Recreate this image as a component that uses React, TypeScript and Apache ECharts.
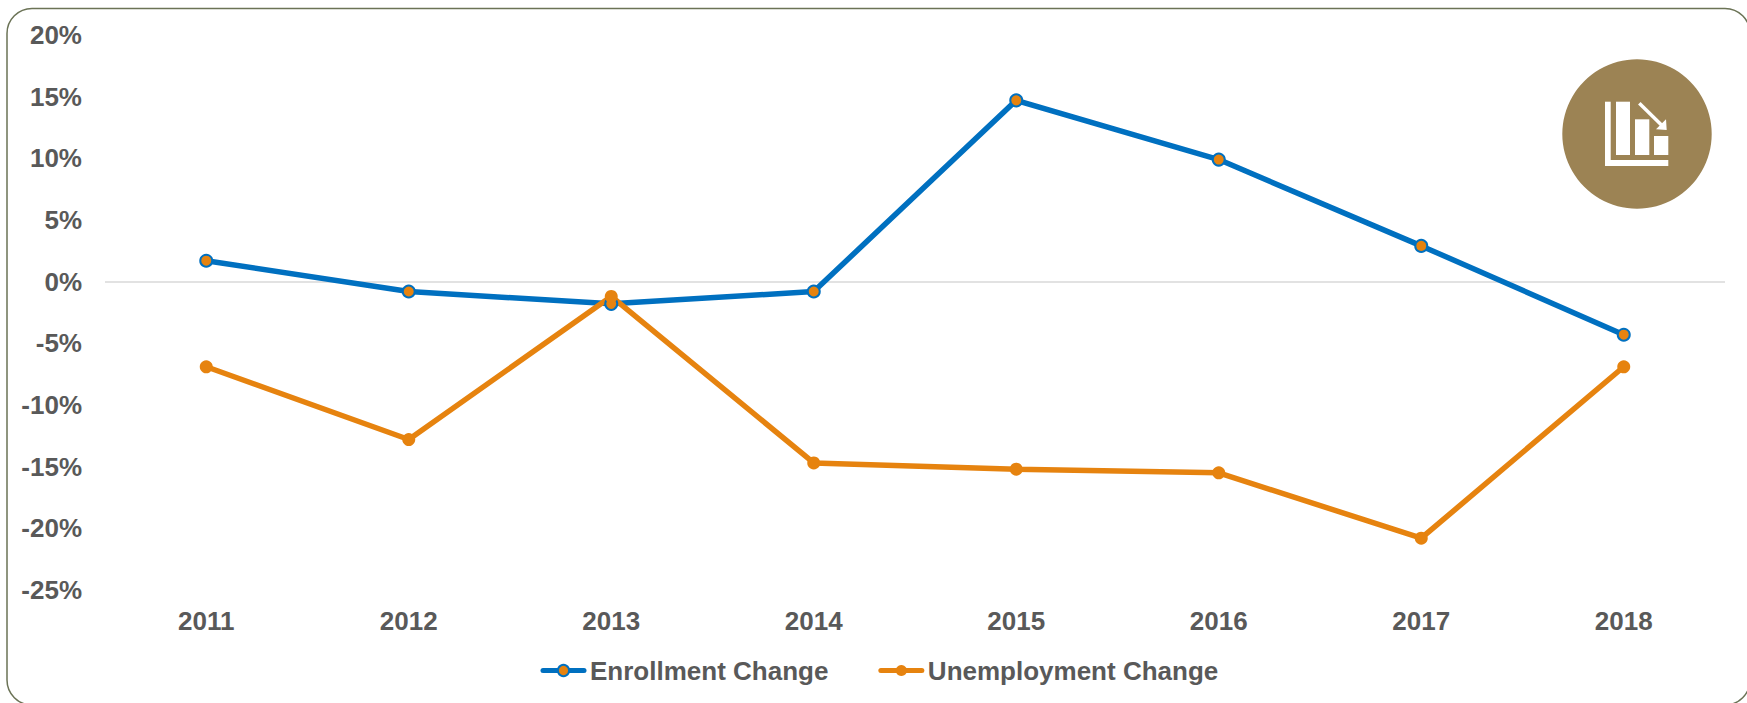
import React, { useEffect, useRef } from "react";
import * as echarts from "echarts";

const years = ["2011", "2012", "2013", "2014", "2015", "2016", "2017", "2018"];
const enrollmentChange = [1.7, -0.8, -1.8, -0.8, 14.7, 9.9, 2.9, -4.3];
const unemploymentChange = [-6.9, -12.8, -1.2, -14.7, -15.2, -15.5, -20.8, -6.9];

const BLUE = "#0070C0";
const ORANGE = "#E6830F";
const TEXT = "#595959";
const FONT = "'Liberation Sans', Arial, sans-serif";

export default function App() {
  const ref = useRef<HTMLDivElement>(null);
  useEffect(() => {
    document.body.style.margin = "0";
    const chart = echarts.init(ref.current!, null, { renderer: "svg" });
    const white = { fill: "#ffffff" };
    chart.setOption({
      animation: false,
      backgroundColor: "#ffffff",
      textStyle: { fontFamily: FONT },
      grid: { left: 105, right: 22, top: 35, height: 555 },
      xAxis: {
        type: "category",
        data: years,
        axisLine: { show: false, onZero: false },
        axisTick: { show: false },
        axisLabel: { color: TEXT, fontSize: 26, fontWeight: "bold", fontFamily: FONT, margin: 18 },
      },
      yAxis: {
        type: "value",
        min: -25,
        max: 20,
        interval: 5,
        splitLine: { show: false },
        axisLine: { show: false },
        axisTick: { show: false },
        axisLabel: { color: TEXT, fontSize: 26, fontWeight: "bold", fontFamily: FONT, margin: 23, formatter: "{value}%" },
      },
      legend: {
        left: 535.5,
        top: 652.5,
        itemGap: 50,
        itemWidth: 41,
        itemHeight: 14,
        lineStyle: { width: 5, cap: "round" },
        textStyle: { color: TEXT, fontSize: 26, fontWeight: "bold", fontFamily: FONT, padding: [0, 0, 0, 1] },
        data: ["Enrollment Change", "Unemployment Change"],
      },
      series: [
        {
          name: "Enrollment Change",
          type: "line",
          data: enrollmentChange,
          symbol: "circle",
          symbolSize: 12,
          showSymbol: true,
          lineStyle: { color: BLUE, width: 5.5, cap: "round" },
          itemStyle: { color: ORANGE, borderColor: BLUE, borderWidth: 2 },
          markLine: {
            silent: true,
            z: 1,
            symbol: "none",
            label: { show: false },
            lineStyle: { color: "#D9D9D9", width: 1.5, type: "solid" },
            data: [{ yAxis: 0 }],
          },
        },
        {
          name: "Unemployment Change",
          type: "line",
          data: unemploymentChange,
          symbol: "circle",
          symbolSize: 13,
          lineStyle: { color: ORANGE, width: 5.5, cap: "round" },
          itemStyle: { color: ORANGE },
        },
      ],
      graphic: [
        {
          type: "rect",
          silent: true,
          z: -1,
          shape: { x: 7, y: 8.5, width: 1743, height: 696.5, r: 25 },
          style: { fill: "none", stroke: "#6B7356", lineWidth: 1.5 },
        },
        { type: "circle", silent: true, shape: { cx: 1637, cy: 134, r: 74.7 }, style: { fill: "#9C8354" } },
        { type: "rect", silent: true, shape: { x: 1605, y: 101.7, width: 5.7, height: 64.3 }, style: white },
        { type: "rect", silent: true, shape: { x: 1605, y: 160, width: 63.3, height: 6 }, style: white },
        { type: "rect", silent: true, shape: { x: 1616, y: 101.7, width: 14, height: 53.3 }, style: white },
        { type: "rect", silent: true, shape: { x: 1635, y: 119.3, width: 14.3, height: 35.7 }, style: white },
        { type: "rect", silent: true, shape: { x: 1654, y: 136, width: 14.3, height: 19 }, style: white },
        {
          type: "line",
          silent: true,
          shape: { x1: 1639.3, y1: 103.3, x2: 1662, y2: 125.5 },
          style: { stroke: "#ffffff", lineWidth: 3.5 },
        },
        {
          type: "polygon",
          silent: true,
          shape: { points: [[1666.7, 130], [1656, 129.3], [1666, 119.3]] },
          style: white,
        },
      ],
    });
    return () => chart.dispose();
  }, []);
  return <div ref={ref} style={{ width: 1747, height: 703, overflow: "hidden" }} />;
}
